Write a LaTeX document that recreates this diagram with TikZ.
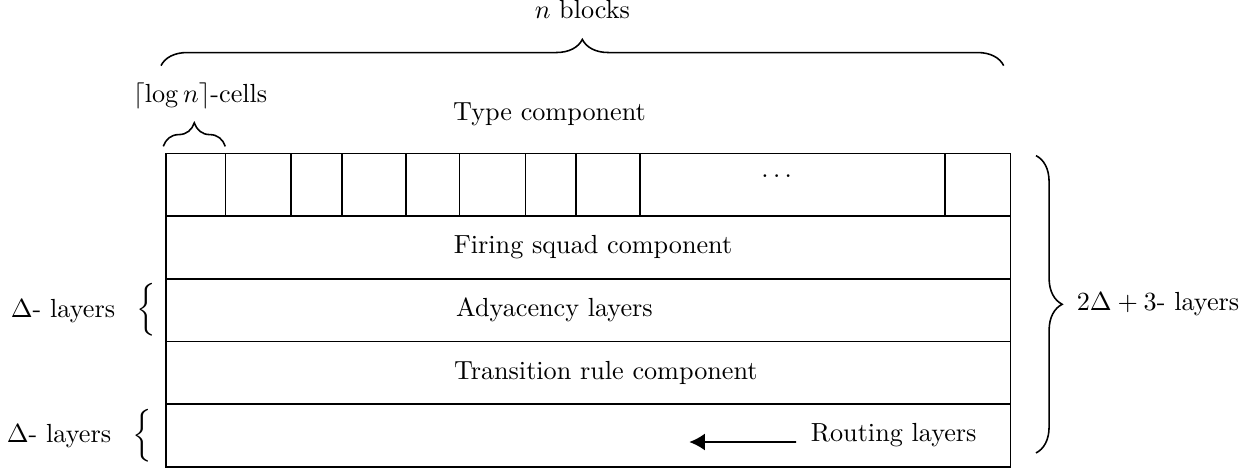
\documentclass[tikz,border=0pt]{standalone}
\usetikzlibrary{decorations.pathreplacing,arrows.meta}

\tikzset{
  bracebig/.style={decorate, decoration={brace, amplitude=10pt}},
  bracesmall/.style={decorate, decoration={brace, amplitude=9pt}},
}
\newcommand{\sidebrace}{\scalebox{1.12}{$\Big\{$}}

\begin{document}
\begin{tikzpicture}[semithick]
  \useasboundingbox (-2.228,-0.027) rectangle (14.631,6.268);

  % Draw the outer box and the layer lines
  \draw (0,0) rectangle (11.336,4.209);
  \foreach \y in {0.842,1.684,2.525,3.367} {
    \draw (0,\y) -- (11.336,\y);
  }

  % Cells of the type component
  \foreach \x in {0.796,1.678,2.362,3.221,3.937,4.828,5.503,6.362,10.456} {
    \draw (\x,3.367) -- (\x,4.209);
  }
  \node (dots) at (8.197,3.901) {$\dots$};

  % Layer labels
  \node (typeLabel) at (5.148,4.738) {Type component};
  \node (firing) at (5.732,2.946) {Firing squad component};
  \node (adjacency) at (5.215,2.105) {Adyacency layers};
  \node (transition) at (5.904,1.263) {Transition rule component};
  \node (routing) at (9.768,0.421) {Routing layers};

  % Arrow towards the routing layers
  \coordinate (routeTip) at (7.024,0.335);
  \draw[-{Latex[length=6pt,width=6.5pt]}] ([xshift=-2pt]routing.base west) -- (routeTip);

  % Left labels
  \node[left] (deltaTop) at (0,2.105) {$\Delta$- layers \enspace\sidebrace};
  \node[left] (deltaBottom) at (-0.054,0.421) {$\Delta$- layers \enspace\sidebrace};

  % Braces
  \coordinate (blocksL) at (-0.067,5.387);
  \coordinate (blocksR) at (11.244,5.387);
  \draw[bracebig] (blocksL) -- (blocksR) node[midway, above=0.5cm] (blocksLabel) {$n$ blocks};

  \coordinate (cellsL) at (-0.036,4.303);
  \coordinate (cellsR) at (0.796,4.303);
  \draw[bracesmall] (cellsL) -- (cellsR) node[midway, above=0.377cm, xshift=0.08cm] (cellsLabel) {$\lceil \log n \rceil$-cells};

  \coordinate (layersT) at (11.678,4.179);
  \coordinate (layersB) at (11.678,0.188);
  \draw[bracebig] (layersT) -- (layersB) node[midway, right=0.42cm] (layersLabel) {$2\Delta+3$- layers};
\end{tikzpicture}
\end{document}
